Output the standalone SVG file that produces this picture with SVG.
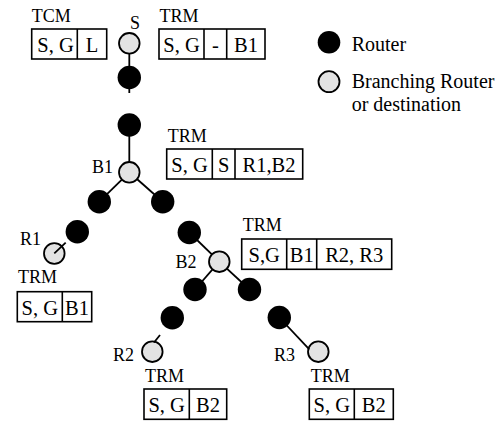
<svg xmlns="http://www.w3.org/2000/svg" width="502" height="422" viewBox="0 0 502 422">
<style>
.lbl{font-size:18px;fill:#000}
.cell{font-size:20.5px;text-anchor:middle;fill:#000}
.leg{font-size:20px;fill:#000}
.box{fill:#fff;stroke:#000;stroke-width:1.6}
.div{stroke:#000;stroke-width:1.6}
.rt{fill:#000}
.br{fill:#e3e3e3;stroke:#000;stroke-width:1.8}
.ln{stroke:#000;stroke-width:1.8;fill:none}
</style>
<rect width="502" height="422" fill="#fff"/>
<g id="connectors">
<line class="ln" x1="129.3" y1="54" x2="129.3" y2="66"/>
<line class="ln" x1="129.3" y1="88" x2="129.3" y2="93"/>
<line class="ln" x1="129.3" y1="136" x2="129.3" y2="162"/>
<line class="ln" x1="129.3" y1="172.3" x2="99.3" y2="201.7"/>
<line class="ln" x1="129.3" y1="172.3" x2="162.7" y2="201.7"/>
<line class="ln" x1="189.3" y1="232.5" x2="219.3" y2="261.7"/>
<line class="ln" x1="219.3" y1="261.7" x2="195" y2="289.5"/>
<line class="ln" x1="219.3" y1="261.7" x2="249.5" y2="289.5"/>
</g>
<g id="node-S"><circle class="br" cx="129.3" cy="43.3" r="10.3"/><text class="lbl" font-family="Liberation Serif" x="130" y="29">S</text></g>
<g id="node-r1"><circle class="rt" cx="129.3" cy="77.5" r="11.7"/></g>
<g id="node-r2"><circle class="rt" cx="129.3" cy="125" r="11.7"/></g>
<g id="node-B1"><circle class="br" cx="129.3" cy="172.3" r="10.3"/><text class="lbl" font-family="Liberation Serif" x="92" y="172.7">B1</text></g>
<g id="node-r3"><circle class="rt" cx="99.3" cy="201.7" r="11.7"/></g>
<g id="node-r4"><circle class="rt" cx="162.7" cy="201.7" r="11.7"/></g>
<g id="node-r5"><circle class="rt" cx="77.3" cy="231.7" r="11.7"/></g>
<g id="node-R1"><circle class="br" cx="54.3" cy="253.5" r="10.3"/><text class="lbl" font-family="Liberation Serif" x="20" y="245">R1</text></g>
<g id="node-r6"><circle class="rt" cx="189.3" cy="232.5" r="11.7"/></g>
<g id="node-B2"><circle class="br" cx="219.3" cy="261.7" r="10.3"/><text class="lbl" font-family="Liberation Serif" x="175.5" y="268.3">B2</text></g>
<g id="node-r7"><circle class="rt" cx="195" cy="289.5" r="11.7"/></g>
<g id="node-r8"><circle class="rt" cx="249.5" cy="289.5" r="11.7"/></g>
<g id="node-r9"><circle class="rt" cx="172.3" cy="317.8" r="11.7"/></g>
<g id="node-R2"><circle class="br" cx="152.3" cy="351.7" r="10.3"/><text class="lbl" font-family="Liberation Serif" x="113" y="361">R2</text></g>
<g id="node-r10"><circle class="rt" cx="279.3" cy="317.5" r="11.7"/></g>
<g id="node-R3"><circle class="br" cx="318.3" cy="351.7" r="10.3"/><text class="lbl" font-family="Liberation Serif" x="274" y="361">R3</text></g>
<g id="connectors-top">
<line class="ln" x1="65.7" y1="242.7" x2="54.3" y2="253.3"/>
<line class="ln" x1="160" y1="335" x2="154" y2="342.5"/>
<line class="ln" x1="279.3" y1="317.5" x2="309.3" y2="349.3"/>
</g>
<g id="table-S-TCM">
<text class="lbl" font-family="Liberation Serif" x="31.7" y="21.7">TCM</text>
<rect class="box" x="31.7" y="29" width="75" height="30"/>
<line class="div" x1="77.3" y1="29" x2="77.3" y2="59"/>
<text class="cell" font-family="Liberation Serif" x="55.5" y="52">S, G</text><text class="cell" font-family="Liberation Serif" x="92" y="52">L</text>
</g>
<g id="table-S-TRM">
<text class="lbl" font-family="Liberation Serif" x="159.5" y="21.7">TRM</text>
<rect class="box" x="159" y="29" width="106" height="30"/>
<line class="div" x1="204" y1="29" x2="204" y2="59"/>
<line class="div" x1="226.7" y1="29" x2="226.7" y2="59"/>
<text class="cell" font-family="Liberation Serif" x="181.5" y="52">S, G</text><text class="cell" font-family="Liberation Serif" x="215.3" y="52">-</text><text class="cell" font-family="Liberation Serif" x="246" y="52">B1</text>
</g>
<g id="table-B1-TRM">
<text class="lbl" font-family="Liberation Serif" x="167.7" y="141.7">TRM</text>
<rect class="box" x="166.7" y="149" width="136" height="30"/>
<line class="div" x1="212.3" y1="149" x2="212.3" y2="179"/>
<line class="div" x1="235" y1="149" x2="235" y2="179"/>
<text class="cell" font-family="Liberation Serif" x="189.5" y="172">S, G</text><text class="cell" font-family="Liberation Serif" x="223.7" y="172">S</text><text class="cell" font-family="Liberation Serif" x="269" y="172">R1,B2</text>
</g>
<g id="table-B2-TRM">
<text class="lbl" font-family="Liberation Serif" x="242.7" y="231">TRM</text>
<rect class="box" x="241.7" y="239" width="150" height="30.3"/>
<line class="div" x1="286.7" y1="239" x2="286.7" y2="269.3"/>
<line class="div" x1="316.7" y1="239" x2="316.7" y2="269.3"/>
<text class="cell" font-family="Liberation Serif" x="264.2" y="262">S,G</text><text class="cell" font-family="Liberation Serif" x="301.7" y="262">B1</text><text class="cell" font-family="Liberation Serif" x="354.2" y="262">R2, R3</text>
</g>
<g id="table-R1-TRM">
<text class="lbl" font-family="Liberation Serif" x="18" y="283.3">TRM</text>
<rect class="box" x="17.3" y="291.7" width="74.4" height="30"/>
<line class="div" x1="62.3" y1="291.7" x2="62.3" y2="321.7"/>
<text class="cell" font-family="Liberation Serif" x="39.8" y="314.7">S, G</text><text class="cell" font-family="Liberation Serif" x="77" y="314.7">B1</text>
</g>
<g id="table-R2-TRM">
<text class="lbl" font-family="Liberation Serif" x="145" y="381.7">TRM</text>
<rect class="box" x="144" y="389" width="82.7" height="30.3"/>
<line class="div" x1="189.3" y1="389" x2="189.3" y2="419.3"/>
<text class="cell" font-family="Liberation Serif" x="166.7" y="412">S, G</text><text class="cell" font-family="Liberation Serif" x="208" y="412">B2</text>
</g>
<g id="table-R3-TRM">
<text class="lbl" font-family="Liberation Serif" x="310.7" y="381.7">TRM</text>
<rect class="box" x="309.3" y="389" width="84" height="30.3"/>
<line class="div" x1="354.3" y1="389" x2="354.3" y2="419.3"/>
<text class="cell" font-family="Liberation Serif" x="331.8" y="412">S, G</text><text class="cell" font-family="Liberation Serif" x="373.8" y="412">B2</text>
</g>
<g id="legend">
<circle class="rt" cx="329" cy="42.3" r="11.3"/>
<text class="leg" font-family="Liberation Serif" x="351.7" y="50.5">Router</text>
<circle class="br" cx="329" cy="81.7" r="10.5"/>
<text class="leg" font-family="Liberation Serif" x="351.7" y="88.3">Branching Router</text>
<text class="leg" font-family="Liberation Serif" x="351.7" y="111">or destination</text>
</g>
</svg>
